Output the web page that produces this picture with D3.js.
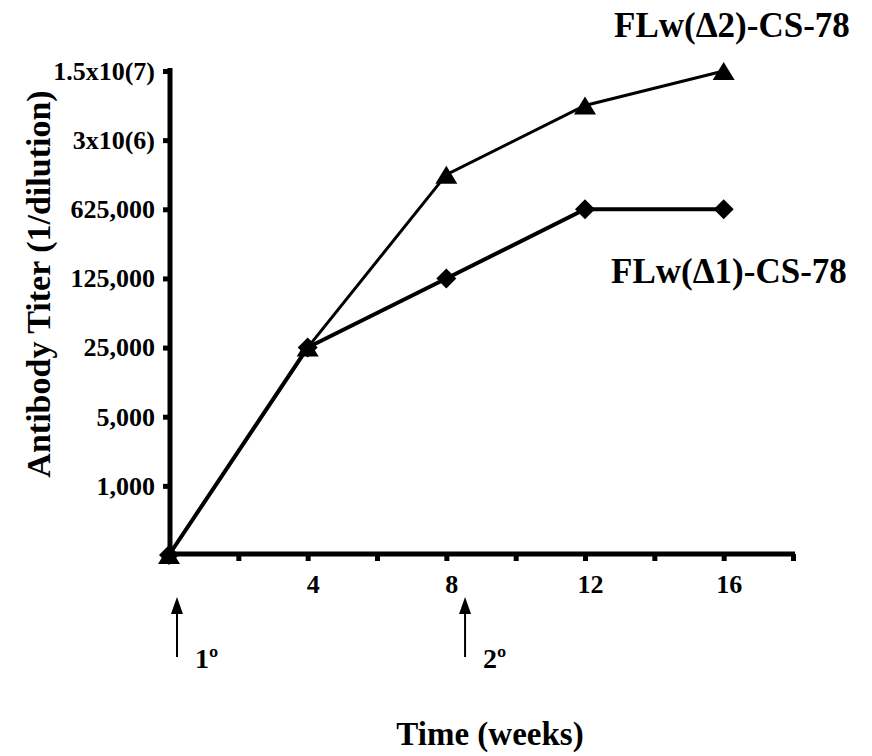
<!DOCTYPE html>
<html>
<head>
<meta charset="utf-8">
<script src="https://cdn.jsdelivr.net/npm/d3@7"></script>
<style>
  body { margin: 0; background: #fff; }
  text { font-family: "Liberation Serif", "Times New Roman", serif; font-weight: bold; fill: #000; }
</style>
</head>
<body>
<script>
// chart values
var weeks = [0, 4, 8, 12, 16];
var titerD1 = [200, 25000, 125000, 625000, 625000];
var titerD2 = [200, 25000, 1400000, 7000000, 15625000];
var seriesNames = ["FLw(\u03941)-CS-78", "FLw(\u03942)-CS-78"];
var yTickValues = [1000, 5000, 25000, 125000, 625000, 3125000, 15625000];
var yTickLabels = ["1,000", "5,000", "25,000", "125,000", "625,000", "3x10(6)", "1.5x10(7)"];
var xTickValues = [2, 4, 6, 8, 10, 12, 14, 16, 18];
var xTickLabels = ["", "4", "", "8", "", "12", "", "16", ""];
var boostWeeks = [0.23, 8.54];
var boostLabels = ["1\u00ba", "2\u00ba"];

var width = 872, height = 756;

var x = d3.scaleLinear().domain([0, 18]).range([169, 793]);
var y = d3.scaleLog().base(5).domain([200, 15625000]).range([555, 71]);

var svg = d3.select("body").append("svg")
    .attr("width", width)
    .attr("height", height);

// y axis
var yAxis = d3.axisLeft(y)
    .tickValues(yTickValues)
    .tickFormat(function(d, i) { return yTickLabels[i]; })
    .tickSize(7)
    .tickSizeOuter(0)
    .tickPadding(8);

var gy = svg.append("g")
    .attr("transform", "translate(170,0)")
    .call(yAxis);
gy.select(".domain").remove();
gy.selectAll(".tick line").attr("stroke", "#000").attr("stroke-width", 5);
gy.selectAll(".tick text").style("font-size", "26px");
gy.append("line")
    .attr("x1", 0).attr("x2", 0)
    .attr("y1", 68).attr("y2", 557)
    .attr("stroke", "#000").attr("stroke-width", 5);

// x axis
var xAxis = d3.axisBottom(x)
    .tickValues(xTickValues)
    .tickFormat(function(d, i) { return xTickLabels[i]; })
    .tickSize(7)
    .tickSizeOuter(0);

var gx = svg.append("g")
    .attr("transform", "translate(0,554)")
    .call(xAxis);
gx.select(".domain").remove();
gx.selectAll(".tick line").attr("stroke", "#000").attr("stroke-width", 5);
gx.selectAll(".tick text")
    .style("font-size", "26px")
    .attr("dy", 0)
    .attr("y", 39)
    .attr("x", 5);
gx.append("line")
    .attr("x1", 167).attr("x2", 795)
    .attr("y1", 0).attr("y2", 0)
    .attr("stroke", "#000").attr("stroke-width", 5);

// lines
var line = d3.line()
    .x(function(d) { return x(d.w); })
    .y(function(d) { return y(d.v); });

var d1 = weeks.map(function(w, i) { return {w: w, v: titerD1[i]}; });
var d2 = weeks.map(function(w, i) { return {w: w, v: titerD2[i]}; });

svg.append("path").datum(d1)
    .attr("d", line)
    .attr("fill", "none").attr("stroke", "#000").attr("stroke-width", 4);
svg.append("path").datum(d2)
    .attr("d", line)
    .attr("fill", "none").attr("stroke", "#000").attr("stroke-width", 3);

// markers
var diamond = "M0,-10L10,0L0,10L-10,0Z";
var triangle = "M0,-9L11,9L-11,9Z";

svg.selectAll(".dia").data(d1).enter().append("path")
    .attr("class", "dia")
    .attr("d", diamond)
    .attr("transform", function(d) { return "translate(" + x(d.w) + "," + y(d.v) + ")"; })
    .attr("fill", "#000");
svg.selectAll(".tri").data(d2).enter().append("path")
    .attr("class", "tri")
    .attr("d", triangle)
    .attr("transform", function(d) { return "translate(" + x(d.w) + "," + y(d.v) + ")"; })
    .attr("fill", "#000");

// series labels
svg.append("text").attr("x", 614).attr("y", 37)
    .style("font-size", "35px").text(seriesNames[1]);
svg.append("text").attr("x", 611).attr("y", 283)
    .style("font-size", "35px").text(seriesNames[0]);

// immunization arrows
var boosts = svg.selectAll(".boost").data(boostWeeks).enter().append("g")
    .attr("class", "boost")
    .attr("transform", function(d) { return "translate(" + x(d) + ",0)"; });
boosts.append("line")
    .attr("x1", 0).attr("x2", 0).attr("y1", 610).attr("y2", 657)
    .attr("stroke", "#000").attr("stroke-width", 2);
boosts.append("path")
    .attr("d", "M0,597L6,614L-6,614Z")
    .attr("fill", "#000");
boosts.append("text")
    .attr("x", 18).attr("y", 668)
    .style("font-size", "28px")
    .text(function(d, i) { return boostLabels[i]; });

// axis titles
svg.append("text")
    .attr("transform", "translate(50,284) rotate(-90)")
    .attr("text-anchor", "middle")
    .style("font-size", "34px")
    .text("Antibody Titer (1/dilution)");
svg.append("text")
    .attr("x", 490).attr("y", 745)
    .attr("text-anchor", "middle")
    .style("font-size", "33px")
    .text("Time (weeks)");
</script>
</body>
</html>
